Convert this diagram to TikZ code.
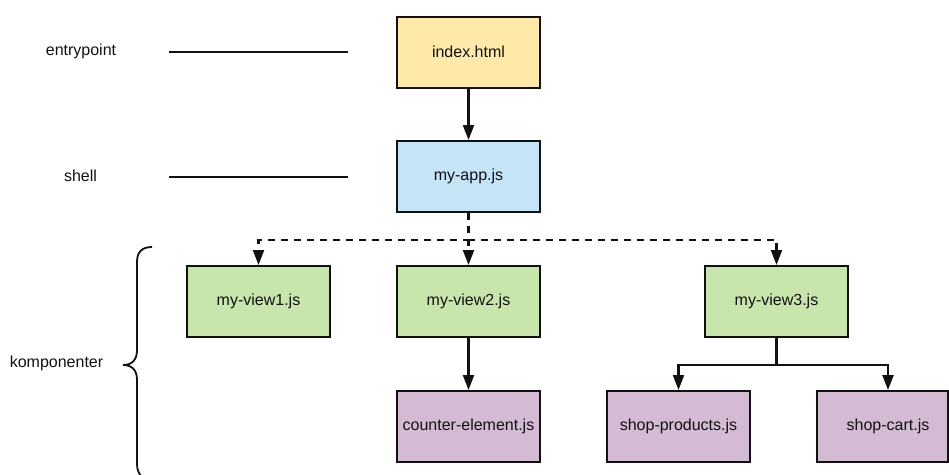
\documentclass[tikz,border=0pt]{standalone}
\usepackage{fontspec}
\setmainfont{Liberation Sans}
\usetikzlibrary{arrows.meta}

\definecolor{entryfill}{HTML}{FFE9A8}
\definecolor{shellfill}{HTML}{C5E4F6}
\definecolor{viewfill}{HTML}{C8E6AC}
\definecolor{partfill}{HTML}{D4BBD4}
\definecolor{ink}{HTML}{111111}

\tikzset{
  filebox/.style={draw=ink, line width=2pt, rectangle,
    minimum width=143pt, minimum height=71pt, inner sep=0pt,
    font=\fontsize{16}{19}\selectfont, text=ink},
  sidelabel/.style={font=\fontsize{16}{19}\selectfont, text=ink, inner sep=0pt},
  link/.style={draw=ink, line width=2.2pt, -{Triangle[length=15pt,width=11pt]}},
  lazylink/.style={link, dash pattern=on 7pt off 6pt},
  rule/.style={draw=ink, line width=2.2pt},
}

\begin{document}
\begin{tikzpicture}[x=1pt, y=-1pt]
  \useasboundingbox (0,0) rectangle (949,474);

  % file tree
  \node[filebox, fill=entryfill] (index) at (468.5,52) {index.html};
  \node[filebox, fill=shellfill] (app) at (468.5,176.5) {my-app.js};
  \node[filebox, fill=viewfill] (v1) at (258.5,301.5) {my-view1.js};
  \node[filebox, fill=viewfill] (v2) at (468.5,301.5) {my-view2.js};
  \node[filebox, fill=viewfill] (v3) at (776.5,301.5) {my-view3.js};
  \node[filebox, fill=partfill] (counter) at (468.5,426.5) {counter-element.js};
  \node[filebox, fill=partfill] (products) at (678.5,426.5) {shop-products.js};
  \node[filebox, fill=partfill, minimum width=131pt] (cart) at (882.5,426.5)
    {\hspace*{11pt}shop-cart.js};

  % imports
  \draw[link] (index) -- (app);
  \draw[lazylink] (app.south) -- ++(0,27) -| (v1.north);
  \draw[lazylink] (app.south) -- (v2.north);
  \draw[lazylink] (app.south) -- ++(0,27) -| (v3.north);
  \draw[link] (v2) -- (counter);
  \draw[link] (v3.south) -- ++(0,27) -| (products.north);
  \draw[link] (v3.south) -- ++(0,27) -| ([xshift=5.5pt]cart.north);

  % layer labels
  \node[sidelabel] (lentry) at (81,51) {entrypoint};
  \node[sidelabel] (lshell) at (80.5,176) {shell};
  \node[sidelabel] (lcomp) at (56.5,363) {komponenter};

  \coordinate (entryA) at (169,52);
  \coordinate (entryB) at (348,52);
  \coordinate (shellA) at (169,177);
  \coordinate (shellB) at (348,177);
  \draw[rule] (entryA) -- (entryB);
  \draw[rule] (shellA) -- (shellB);

  % brace around the components
  \draw[draw=ink, line width=1.8pt]
    (152,247) .. controls (142,247) and (137,252) .. (137,262)
    -- (137,350) .. controls (137,360) and (132,365) .. (123,365)
    .. controls (132,365) and (137,370) .. (137,380)
    -- (137,464) .. controls (137,470) and (139,474) .. (142,477);
\end{tikzpicture}
\end{document}
